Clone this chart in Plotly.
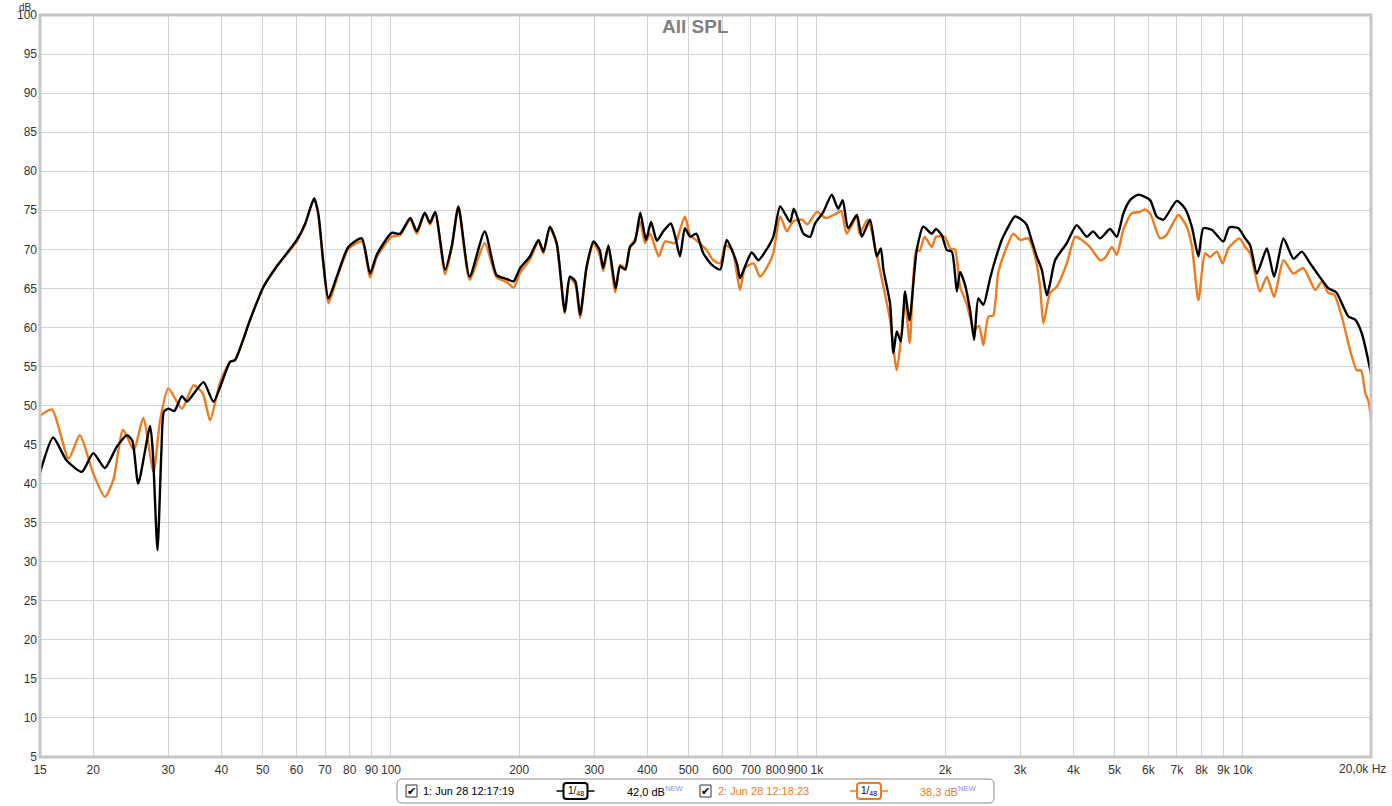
import math
import plotly.graph_objects as go

# ---------------- data ----------------
freq_1 = [15.0, 16.1, 17.3, 18.8, 20.0, 21.3, 22.7, 24.0, 24.7, 25.5, 27.2, 27.6, 28.3, 28.9, 29.3, 30.0,
          31.0, 32.3, 33.2, 36.3, 38.3, 41.9, 43.0, 46.7, 50.2, 53.9, 60.1, 62.9, 66.0, 67.5, 69.4, 71.3,
          74.6, 79.4, 85.4, 89.3, 92.6, 100.4, 105, 111, 115, 120, 123.5, 127, 134, 139, 144, 153, 166,
          177, 187, 194, 201, 212, 222, 228, 236, 245, 256, 263, 271, 278, 288, 299, 309, 315, 324, 337,
          345, 355, 364, 374, 385, 397, 408, 421, 436, 454, 465, 477, 490, 504, 521, 541, 567, 593, 614,
          649, 660, 678, 703, 729, 756, 790, 820, 865, 883, 930, 964, 990, 1036, 1084, 1122, 1150, 1184,
          1241, 1275, 1333, 1382, 1413, 1433, 1485, 1512, 1540, 1574, 1611, 1649, 1716, 1778, 1861, 1904,
          1965, 2019, 2075, 2131, 2169, 2226, 2289, 2340, 2394, 2460, 2551, 2621, 2717, 2791, 2916, 3024,
          3111, 3191, 3282, 3373, 3466, 3527, 3625, 3862, 4075, 4302, 4451, 4623, 4880, 5060, 5243, 5437,
          5686, 6058, 6278, 6513, 6999, 7320, 7590, 7866, 8082, 8455, 9004, 9291, 9766, 10130, 10408,
          10793, 11389, 11848, 12459, 13151, 13762, 14394, 15055, 15892, 16570, 17699, 18360, 19040, 20000]
spl_1 = [41.4, 45.9, 43.0, 41.5, 43.9, 42.0, 44.7, 46.2, 45.5, 40.0, 47.4, 44.0, 31.5, 44.0, 49.2, 49.6,
         49.3, 51.2, 50.5, 53.0, 50.5, 55.6, 55.8, 61.0, 65.2, 67.8, 71.2, 73.3, 76.5, 74.6, 68.2, 63.7,
         66.5, 70.3, 71.4, 66.9, 69.3, 72.1, 72.0, 74.0, 72.3, 74.7, 73.4, 74.8, 67.4, 70.5, 75.5, 66.5, 72.3,
         66.7, 66.2, 65.9, 67.6, 69.1, 71.2, 69.7, 72.9, 70.8, 62.0, 66.5, 65.9, 61.6, 67.8, 71.0, 69.9, 67.6,
         70.5, 65.0, 67.8, 67.4, 70.3, 71.0, 74.7, 71.2, 73.5, 71.1, 72.3, 73.3, 71.6, 69.1, 72.7, 71.6, 72.0,
         69.5, 68.0, 67.4, 71.2, 68.2, 66.3, 67.8, 69.6, 68.6, 69.7, 71.6, 75.5, 73.5, 75.2, 72.0, 71.6, 73.3,
         74.8, 77.0, 75.2, 76.3, 72.7, 74.4, 71.6, 73.8, 69.1, 70.1, 67.4, 63.1, 56.7, 59.5, 58.2, 64.6, 60.9,
         69.9, 72.9, 72.0, 72.6, 71.8, 69.9, 69.7, 64.6, 67.1, 65.5, 62.2, 58.4, 63.7, 62.9, 66.3, 68.6, 71.2,
         72.5, 74.2, 73.8, 73.1, 71.2, 69.1, 67.4, 64.1, 65.6, 68.6, 70.8, 73.1, 71.6, 72.3, 71.4, 72.6, 71.6,
         74.6, 76.3, 77.0, 76.3, 74.2, 73.8, 76.2, 75.2, 72.9, 69.1, 72.7, 72.5, 71.0, 72.8, 72.7, 71.4, 70.5,
         66.9, 70.1, 66.5, 71.4, 68.8, 69.7, 68.2, 66.7, 65.0, 64.5, 61.4, 61.0, 59.2, 54.1]

freq_2 = [15.0, 16.0, 17.5, 18.6, 20.0, 21.3, 22.3, 23.5, 24.9, 26.2, 27.7, 28.7, 30.0, 32.3, 34.4, 36.2,
          37.6, 39.7, 41.9, 43.0, 46.7, 50.2, 53.9, 60.1, 62.9, 66.0, 67.5, 69.4, 71.3, 74.6, 79.4, 85.4,
          89.3, 92.6, 100.4, 105, 111, 115, 120, 123.5, 127, 134, 139, 144, 153, 166, 177, 187, 194, 201,
          212, 222, 228, 236, 245, 256, 263, 271, 278, 288, 299, 309, 315, 324, 336, 345, 355, 364, 374,
          385, 395, 406, 425, 440, 465, 477, 490, 504, 520, 551, 571, 593, 609, 632, 660, 678, 710, 735,
          769, 790, 820, 850, 880, 922, 950, 1000, 1051, 1113, 1141, 1175, 1241, 1259, 1316, 1391, 1433,
          1485, 1540, 1580, 1611, 1652, 1710, 1743, 1790, 1861, 1904, 1996, 2055, 2109, 2169, 2245, 2340,
          2403, 2460, 2528, 2593, 2666, 2791, 2893, 3000, 3134, 3253, 3343, 3403, 3527, 3657, 3862, 4040,
          4189, 4376, 4623, 4749, 4926, 5060, 5243, 5485, 5737, 5890, 6058, 6395, 6612, 7061, 7386, 7590,
          7866, 8156, 8379, 8688, 8965, 9243, 9820, 10130, 10408, 10970, 11389, 11848, 12459, 13151, 13880,
          14800, 15336, 15892, 16390, 17078, 17860, 18530, 18960, 19390, 19740, 20000]
spl_2 = [48.7, 49.5, 43.2, 46.2, 41.3, 38.3, 40.5, 46.9, 44.3, 48.4, 41.5, 48.1, 52.2, 49.6, 52.6, 51.5,
         48.1, 53.0, 55.6, 55.8, 61.0, 65.2, 67.8, 71.0, 73.2, 76.5, 74.4, 68.0, 63.1, 66.2, 70.0, 71.0,
         66.4, 69.0, 71.6, 71.8, 73.8, 72.0, 74.6, 73.2, 74.6, 66.8, 70.3, 75.3, 66.1, 70.8, 66.4, 65.8, 65.1,
         67.0, 68.7, 71.0, 69.5, 72.8, 70.6, 61.8, 66.3, 65.5, 61.2, 67.6, 70.8, 69.3, 67.2, 70.3, 64.5, 68.0,
         67.6, 70.3, 71.3, 73.5, 70.8, 72.0, 69.1, 71.0, 70.8, 72.5, 74.2, 71.8, 71.2, 69.9, 68.6, 68.2, 70.5,
         70.0, 64.8, 67.6, 68.2, 66.5, 68.0, 69.5, 74.2, 72.3, 73.6, 73.8, 73.2, 74.8, 74.0, 74.6, 74.9, 72.0,
         74.2, 72.0, 73.8, 68.6, 65.2, 61.0, 54.5, 59.2, 63.5, 58.0, 69.9, 69.8, 71.6, 70.3, 71.6, 71.6, 70.1,
         70.0, 65.2, 63.1, 59.7, 60.2, 57.7, 61.4, 61.5, 67.0, 70.3, 72.0, 71.2, 71.4, 69.1, 65.2, 60.5, 64.4,
         65.2, 68.2, 71.6, 71.2, 70.3, 68.6, 68.9, 70.3, 69.3, 72.5, 74.6, 74.8, 75.1, 74.6, 71.4, 71.8, 74.4,
         72.9, 70.5, 63.5, 69.5, 69.0, 69.7, 68.2, 70.1, 71.4, 70.3, 69.5, 64.6, 66.5, 63.9, 68.6, 66.9, 67.6,
         64.8, 65.9, 64.4, 64.2, 61.4, 57.1, 54.5, 54.5, 51.6, 50.5, 48.4]

x_tick_vals = [15, 20, 30, 40, 50, 60, 70, 80, 90, 100, 200, 300, 400, 500, 600, 700, 800, 900, 1000,
               2000, 3000, 4000, 5000, 6000, 7000, 8000, 9000, 10000]
x_tick_text = ["15", "20", "30", "40", "50", "60", "70", "80", "90", "100", "200", "300", "400", "500",
               "600", "700", "800", "900", "1k", "2k", "3k", "4k", "5k", "6k", "7k", "8k", "9k", "10k"]

name_1 = "1: Jun 28 12:17:19"
name_2 = "2: Jun 28 12:18:23"
level_1 = "42,0 dB"
level_2 = "38,3 dB"

# ---------------- styling ----------------
W, H = 1392, 806
L, R, T, B = 40, 21, 15, 49
PW, PH = W - L - R, H - T - B
BLACK = "#000000"
ORANGE = "#f07a1e"
GRID = "#d3d3d3"
FONT = "Liberation Sans"
TICK = dict(family=FONT, size=12, color="#333333")


def px(xp):
    return (xp - L) / PW


def py(yp):
    return (H - B - yp) / PH


fig = go.Figure()
fig.add_trace(go.Scatter(x=freq_2, y=spl_2, mode="lines", name=name_2,
                         line=dict(color=ORANGE, width=2.4, shape="spline", smoothing=0.6)))
fig.add_trace(go.Scatter(x=freq_1, y=spl_1, mode="lines", name=name_1,
                         line=dict(color=BLACK, width=2.4, shape="spline", smoothing=0.6)))

fig.update_layout(
    width=W, height=H,
    margin=dict(l=L, r=R, t=T, b=B, autoexpand=False),
    paper_bgcolor="white", plot_bgcolor="white",
    showlegend=False,
    font=dict(family=FONT, size=11, color="#333333"),
    xaxis=dict(type="log", range=[math.log10(14.995), math.log10(20000)],
               tickvals=x_tick_vals, ticktext=x_tick_text, automargin=False, tickangle=0,
               showgrid=True, gridcolor=GRID, gridwidth=1, zeroline=False, showline=False,
               ticks="", ticklabelstandoff=4, tickfont=TICK),
    yaxis=dict(range=[5, 100], tick0=5, dtick=5, automargin=False,
               showgrid=True, gridcolor=GRID, gridwidth=1, zeroline=False, showline=False,
               ticks="", ticklabelstandoff=2, tickfont=TICK),
)

shapes = []
# plot frame
shapes.append(dict(type="rect", xref="paper", yref="paper", x0=0, x1=1, y0=0, y1=1,
                   line=dict(color="#c6c6c6", width=3), layer="above"))


def rounded(x0, y0, x1, y1, r, color, width, fill="rgba(0,0,0,0)"):
    a, b, c, d = px(x0), px(x1), py(y0), py(y1)
    rx, ry = r / PW, r / PH
    path = (f"M {a+rx},{c} L {b-rx},{c} Q {b},{c} {b},{c-ry} L {b},{d+ry} Q {b},{d} {b-rx},{d} "
            f"L {a+rx},{d} Q {a},{d} {a},{d+ry} L {a},{c-ry} Q {a},{c} {a+rx},{c} Z")
    return dict(type="path", xref="paper", yref="paper", path=path,
                line=dict(color=color, width=width), fillcolor=fill)


# legend box
shapes.append(rounded(397, 779, 994, 803, 5, "#8a8a8a", 1, "white"))
annotations = []


def text(xp, yp, s, color="#000000", size=11, xanchor="left", bold=False, family=FONT):
    annotations.append(dict(xref="paper", yref="paper", x=px(xp), y=py(yp), text=(f"<b>{s}</b>" if bold else s),
                            showarrow=False, xanchor=xanchor, yanchor="middle",
                            font=dict(family=family, size=size, color=color)))


# checkboxes
for cx in (406, 700):
    shapes.append(dict(type="rect", xref="paper", yref="paper", x0=px(cx), x1=px(cx + 11),
                       y0=py(797), y1=py(785), line=dict(color="#333333", width=1), fillcolor="white"))
    text(cx + 5.5, 791.5, "✔", "#000000", 11, "center", family="DejaVu Sans")

# filter icons
for (cx, col) in ((575.5, BLACK), (869, ORANGE)):
    shapes.append(dict(type="line", xref="paper", yref="paper", x0=px(cx - 19), x1=px(cx - 12),
                       y0=py(791), y1=py(791), line=dict(color=col, width=1.5)))
    shapes.append(dict(type="line", xref="paper", yref="paper", x0=px(cx + 12), x1=px(cx + 19),
                       y0=py(791), y1=py(791), line=dict(color=col, width=1.5)))
    shapes.append(rounded(cx - 12, 783, cx + 12, 799, 3, col, 2, "white"))
    text(cx, 791, "1/<sub>48</sub>", "#000000", 10, "center")

text(421, 791, name_1, "#000000", 11)
text(625, 791, level_1 + "<sup><span style='color:#8a8aff'>NEW</span></sup>", "#000000", 11)
text(716, 791, name_2, ORANGE, 11)
text(918, 791, level_2 + "<sup><span style='color:#8a8aff'>NEW</span></sup>", ORANGE, 11)

# title and axis units
text(695, 27, "All SPL", "#808080", 19, "center", bold=True)
text(25, 7, "dB", "#333333", 10, "center")
text(1388, 769, "20,0k Hz", "#333333", 12, "right")

fig.update_layout(shapes=shapes, annotations=annotations)
fig.write_html("out.html", config={"displayModeBar": False},
               post_script="document.body.style.margin='0';")
